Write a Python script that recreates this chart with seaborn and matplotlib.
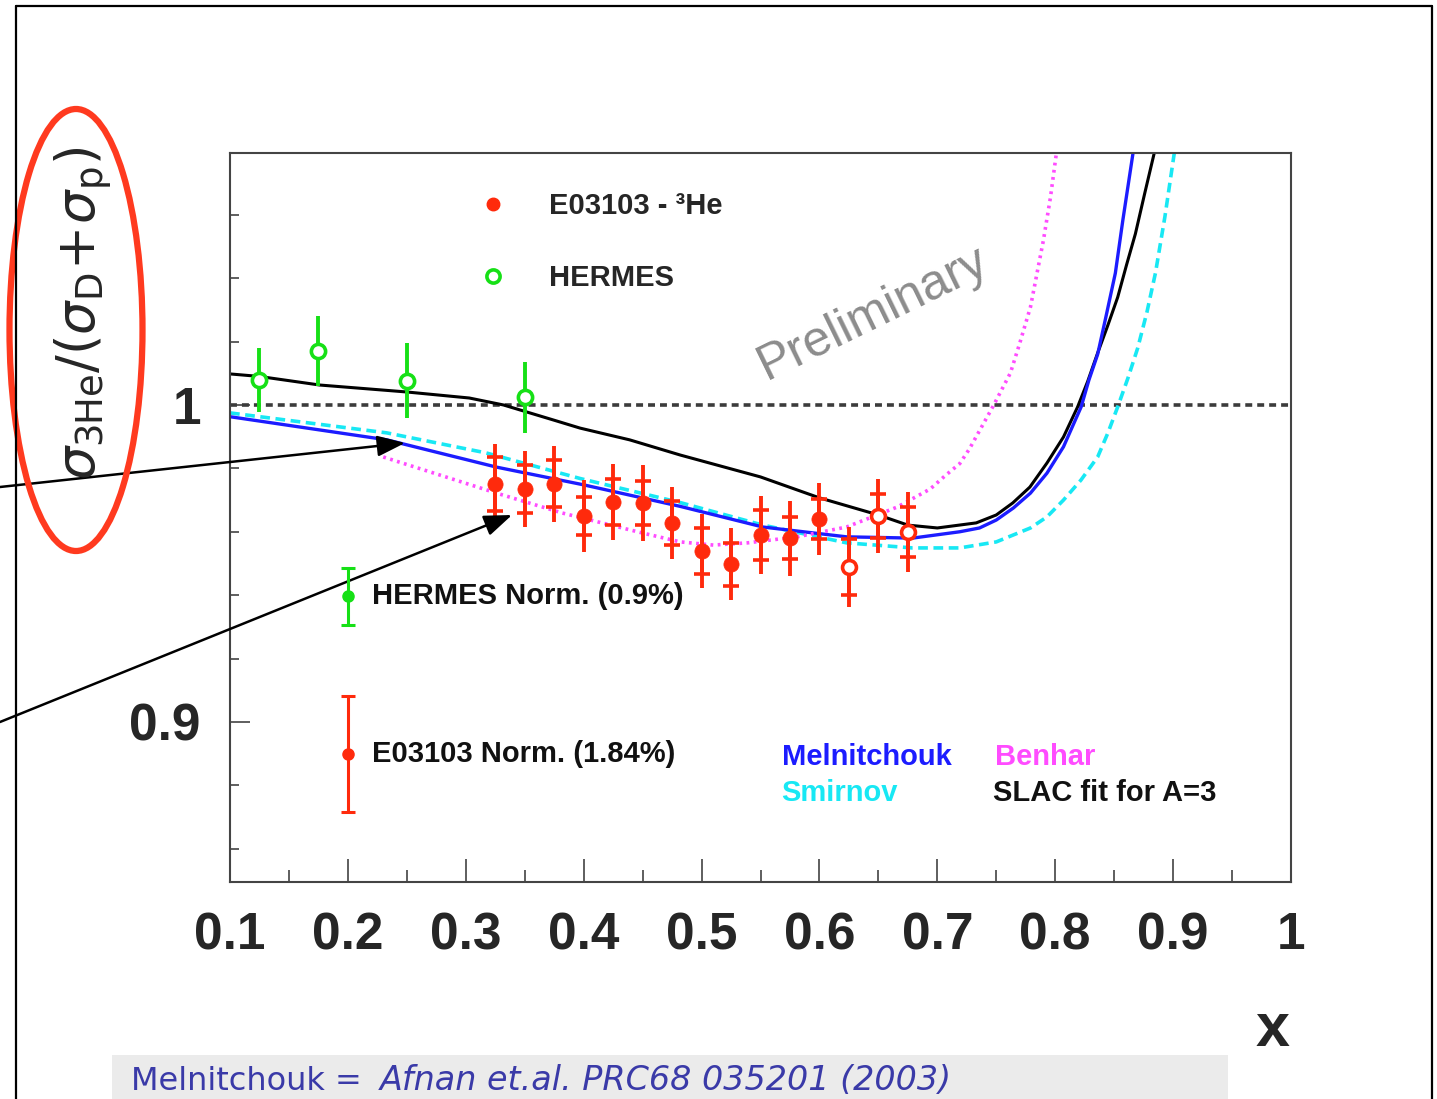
import numpy as np
import pandas as pd
import matplotlib
matplotlib.use("Agg")
import matplotlib.pyplot as plt
import seaborn as sns
from matplotlib.patches import Ellipse, Rectangle
from matplotlib.lines import Line2D
from matplotlib.ticker import MultipleLocator

# ---------------- data ----------------
e03103_x = [0.325, 0.35, 0.375, 0.40, 0.425, 0.45, 0.475, 0.50, 0.525, 0.55, 0.575, 0.60, 0.625, 0.65, 0.675]
e03103_y = [0.9751, 0.9735, 0.9751, 0.9650, 0.9694, 0.9691, 0.9628, 0.9539, 0.9498, 0.9590, 0.9580, 0.9640, 0.9489, 0.9650, 0.9599]
e03103_stat = [0.0084, 0.0077, 0.0074, 0.0060, 0.0074, 0.0069, 0.0069, 0.0073, 0.0068, 0.0079, 0.0066, 0.0062, 0.0088, 0.0069, 0.0079]
e03103_tot = [0.0126, 0.0121, 0.0121, 0.0114, 0.0121, 0.0120, 0.0114, 0.0117, 0.0114, 0.0123, 0.0118, 0.0114, 0.0125, 0.0118, 0.0125]
e03103_open = [False] * 12 + [True] * 3

hermes_x = [0.125, 0.175, 0.25, 0.35]
hermes_y = [1.0079, 1.0170, 1.0076, 1.0025]
hermes_err = [0.0101, 0.0110, 0.0118, 0.0112]

slac_x = [0.10, 0.125, 0.176, 0.25, 0.303, 0.332, 0.374, 0.397, 0.439, 0.482, 0.55, 0.60, 0.65, 0.675,
          0.70, 0.733, 0.750, 0.764, 0.7785, 0.793, 0.807, 0.819, 0.8275, 0.836, 0.8447, 0.853, 0.8605,
          0.868, 0.876, 0.884]
slac_y = [1.0098, 1.0090, 1.0063, 1.0041, 1.0022, 1.0000, 0.9953, 0.9927, 0.9890, 0.9842, 0.9773, 0.9707, 0.9653, 0.9621,
          0.9612, 0.9628, 0.9653, 0.9691, 0.9741, 0.9817, 0.9899, 0.9994, 1.0074, 1.0164, 1.0252, 1.0340, 1.0442,
          1.0540, 1.0669, 1.0795]

meln_x = [0.10, 0.233, 0.326, 0.40, 0.482, 0.552, 0.623, 0.679, 0.719, 0.7358, 0.75, 0.7645, 0.779, 0.793,
          0.807, 0.822, 0.8286, 0.836, 0.843, 0.851, 0.8574, 0.866]
meln_y = [0.9963, 0.9890, 0.9804, 0.9748, 0.9680, 0.9615, 0.9584, 0.9580, 0.9600, 0.9612, 0.9637, 0.9675, 0.9722, 0.9785,
          0.9868, 0.9994, 1.0079, 1.0160, 1.0278, 1.0416, 1.0584, 1.0795]

smir_x = [0.10, 0.233, 0.317, 0.397, 0.482, 0.552, 0.623, 0.679, 0.719, 0.75, 0.779, 0.793, 0.807, 0.8218,
          0.836, 0.8447, 0.853, 0.8617, 0.87, 0.8778, 0.885, 0.893, 0.901]
smir_y = [0.9975, 0.9912, 0.9849, 0.9768, 0.9692, 0.9621, 0.9565, 0.9549, 0.9549, 0.9568, 0.9612, 0.9647, 0.9700, 0.9763,
          0.9836, 0.9912, 0.9994, 1.0085, 1.0180, 1.0293, 1.0416, 1.0593, 1.0795]

benh_x = [0.23, 0.326, 0.382, 0.45, 0.482, 0.51, 0.539, 0.581, 0.623, 0.666, 0.694, 0.707, 0.719, 0.727,
          0.747, 0.762, 0.770, 0.779, 0.79, 0.796, 0.801]
benh_y = [0.9836, 0.9722, 0.9659, 0.9596, 0.9568, 0.9558, 0.9565, 0.9584, 0.9615, 0.9678, 0.9735, 0.9778, 0.9815, 0.9860,
          0.9994, 1.0101, 1.0196, 1.0309, 1.0520, 1.0656, 1.0795]

norm_x = 0.2
hermes_norm_y = 0.9397
hermes_norm_err = 0.009
e03103_norm_y = 0.8899
e03103_norm_err = 0.0184

x_ticks = [0.1, 0.2, 0.3, 0.4, 0.5, 0.6, 0.7, 0.8, 0.9, 1.0]
x_tick_labels = ["0.1", "0.2", "0.3", "0.4", "0.5", "0.6", "0.7", "0.8", "0.9", "1"]
y_ticks = [0.9, 1.0]
y_tick_labels = ["0.9", "1"]
reference_line = 1.0

# ---------------- style ----------------
sns.set_theme(style="white")
plt.rcParams["font.family"] = ["Liberation Sans", "DejaVu Sans"]
plt.rcParams["mathtext.fontset"] = "dejavusans"
plt.rcParams["lines.scale_dashes"] = False
plt.rcParams["lines.solid_joinstyle"] = "round"

RED = "#ff2a0c"
GREEN = "#16e016"
BLUE = "#1c1cff"
CYAN = "#18e8f4"
MAGENTA = "#ff4cff"
FRAME = "#444444"

W, H = 1437, 1099
fig = plt.figure(figsize=(W / 100, H / 100), dpi=100)
fig.patch.set_facecolor("white")
ax = fig.add_axes([230 / W, 1 - 882 / H, (1291 - 230) / W, (882 - 153) / H])
ax.set_facecolor("white")

# reference line
ax.axhline(reference_line, color="#3c3c3c", lw=2.6, ls=(0, (5.0, 3.6)), zorder=1)

# model curves
curves = [
    (slac_x, slac_y, "black", 2.2, "-"),
    (smir_x, smir_y, CYAN, 2.6, (0, (7.0, 4.0))),
    (meln_x, meln_y, BLUE, 2.4, "-"),
    (benh_x, benh_y, MAGENTA, 2.6, (0, (2.0, 3.2))),
]
for cx, cy, col, lw, ls in curves:
    df = pd.DataFrame({"x": cx, "y": cy})
    sns.lineplot(data=df, x="x", y="y", ax=ax, color=col, lw=lw, ls=ls,
                 sort=False, estimator=None, zorder=2, legend=False)

# HERMES data
ax.errorbar(hermes_x, hermes_y, yerr=hermes_err, fmt="none", ecolor=GREEN,
            elinewidth=2.8, capsize=0, zorder=3)
hdf = pd.DataFrame({"x": hermes_x, "y": hermes_y})
sns.scatterplot(data=hdf, x="x", y="y", ax=ax, marker="o", s=105,
                facecolor="white", edgecolor=GREEN, linewidth=2.6, zorder=4, legend=False)

# E03103 data
ax.errorbar(e03103_x, e03103_y, yerr=e03103_tot, fmt="none", ecolor=RED,
            elinewidth=2.8, capsize=0, zorder=3)
ax.errorbar(e03103_x, e03103_y, yerr=e03103_stat, fmt="none", ecolor=RED,
            elinewidth=2.8, capsize=6, capthick=2.6, zorder=3)
edf = pd.DataFrame({"x": e03103_x, "y": e03103_y, "open": e03103_open})
sns.scatterplot(data=edf[~edf["open"]], x="x", y="y", ax=ax, marker="o", s=120,
                color=RED, edgecolor=RED, linewidth=0.5, zorder=4, legend=False)
sns.scatterplot(data=edf[edf["open"]], x="x", y="y", ax=ax, marker="o", s=100,
                facecolor="white", edgecolor=RED, linewidth=2.6, zorder=4, legend=False)

# normalisation uncertainties
ax.errorbar([norm_x], [hermes_norm_y], yerr=[hermes_norm_err], fmt="o", color=GREEN,
            ms=8, elinewidth=2.2, capsize=5, capthick=2.2, zorder=4)
ax.errorbar([norm_x], [e03103_norm_y], yerr=[e03103_norm_err], fmt="o", color=RED,
            ms=8, elinewidth=2.2, capsize=5, capthick=2.2, zorder=4)

txt_kw = dict(fontsize=21, fontweight="bold", va="center", ha="left")
ax.text(0.2204, hermes_norm_y, "HERMES Norm. (0.9%)", color="#111111", **txt_kw)
ax.text(0.2204, e03103_norm_y, "E03103 Norm. (1.84%)", color="#111111", **txt_kw)

# model labels
ax.text(0.5682, 0.8890, "Melnitchouk", color=BLUE, **txt_kw)
ax.text(0.5674, 0.8776, "Smirnov", color=CYAN, **txt_kw)
ax.text(0.7489, 0.8890, "Benhar", color=MAGENTA, **txt_kw)
ax.text(0.7472, 0.8776, "SLAC fit for A=3", color="#111111", **txt_kw)

# data legend
handles = [
    Line2D([], [], ls="none", marker="o", ms=9, color=RED),
    Line2D([], [], ls="none", marker="o", ms=9.5, mfc="white", mec=GREEN, mew=2.6),
]
leg = ax.legend(handles, ["E03103 - \u00b3He", "HERMES"], loc="upper left",
                bbox_to_anchor=((478 - 230) / 1061, (882 - 192) / 729),
                frameon=False, borderpad=0, borderaxespad=0, handlelength=1.0,
                handletextpad=1.45, labelspacing=1.5,
                prop={"size": 21, "weight": "bold"})

# Preliminary watermark
ax.text(0.6460, 1.0290, "Preliminary", color="#8c8c8c", fontsize=36,
        rotation=26, ha="center", va="center", rotation_mode="anchor")

# axes
ax.set_xlim(0.1, 1.0)
ax.set_ylim(0.8495, 1.0795)
ax.set_xticks(x_ticks, labels=x_tick_labels, fontweight="bold", fontsize=37)
ax.set_yticks(y_ticks, labels=y_tick_labels, fontweight="bold", fontsize=37)
ax.xaxis.set_minor_locator(MultipleLocator(0.05))
ax.yaxis.set_minor_locator(MultipleLocator(0.02))
ax.tick_params(axis="x", which="major", direction="in", length=16.5, width=1.1,
               color="#333333", pad=21, bottom=True, top=False)
ax.tick_params(axis="x", which="minor", direction="in", length=8.5, width=1.1,
               color="#333333", bottom=True, top=False)
ax.tick_params(axis="y", which="major", direction="in", length=14.5, width=1.1,
               color="#333333", pad=21, left=True, right=False)
ax.tick_params(axis="y", which="minor", direction="in", length=6.5, width=1.1,
               color="#333333", left=True, right=False)
ax.set_xlabel("")
ax.set_ylabel("")
for sp in ax.spines.values():
    sp.set_visible(True)
    sp.set_color(FRAME)
    sp.set_linewidth(1.5)

# axis titles
fig.text(1273 / W, 1 - 1030 / H, "x", fontsize=44, fontweight="bold",
         ha="center", va="center")
fig.text(84 / W, 1 - 313 / H,
         r"$\sigma_{\mathrm{3He}}/(\sigma_{\mathrm{D}}\!+\!\sigma_{\mathrm{p}})$",
         fontsize=38, rotation=90, ha="center", va="center")

# red highlight ellipse
fig.add_artist(Ellipse((76 / W, 1 - 330 / H), width=133 / W, height=442 / H,
                       transform=fig.transFigure, fill=False, ec="#ff3a1f", lw=4.5))

# arrows
arrow_kw = dict(arrowstyle="-|>,head_length=0.85,head_width=0.32", color="black",
                lw=1.8, mutation_scale=20, shrinkA=0, shrinkB=0)
ax.annotate("", xy=(405, H - 443), xycoords="figure pixels",
            xytext=(0, H - 487), textcoords="figure pixels",
            arrowprops=arrow_kw, annotation_clip=False)
ax.annotate("", xy=(512, H - 515), xycoords="figure pixels",
            xytext=(0, H - 722), textcoords="figure pixels",
            arrowprops=arrow_kw, annotation_clip=False)

# slide frame
for (x0, y0, x1, y1) in [(16, 6, 1432, 6), (16, 6, 16, H + 5), (1432, 6, 1432, H + 5)]:
    fig.add_artist(Line2D([x0 / W, x1 / W], [1 - y0 / H, 1 - y1 / H],
                          transform=fig.transFigure, color="black", lw=1.6))

# reference box at bottom
fig.add_artist(Rectangle((112 / W, -0.01), (1228 - 112) / W, 0.01 + (H - 1055) / H,
                         transform=fig.transFigure, facecolor="#ebebeb", edgecolor="none",
                         zorder=0))
fig.text(131 / W, 1 - 1090 / H, "Melnitchouk =", color="#3a3aa8", fontsize=23,
         family=["DejaVu Sans"], ha="left", va="baseline")
fig.text(380 / W, 1 - 1090 / H, "Afnan et.al. PRC68 035201 (2003)", color="#3a3aa8",
         fontsize=24, style="italic", family=["DejaVu Sans"], ha="left", va="baseline")

fig.savefig("out.png", dpi=100, facecolor="white")
